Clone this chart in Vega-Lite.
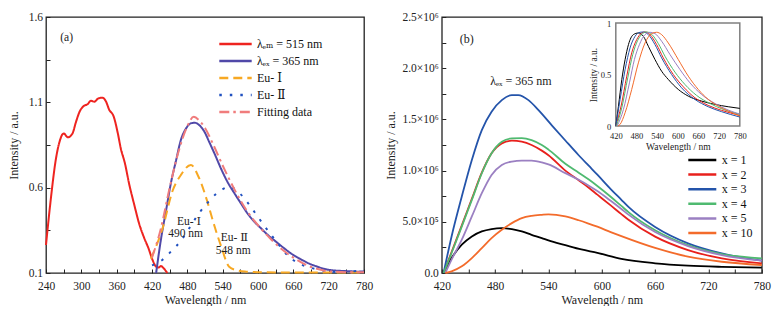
{
  "$schema": "https://vega.github.io/schema/vega-lite/v6.json",
  "background": "white",
  "padding": {"left": 6, "top": 10, "right": 0, "bottom": 0},
  "spacing": 8.8,
  "config": {
    "font": "Liberation Serif, Times New Roman, DejaVu Serif, serif",
    "view": {"stroke": "#222", "strokeWidth": 1.3},
    "axis": {"grid": false, "domain": false, "tickSize": -4, "tickColor": "#222", "tickWidth": 1,
      "labelFont": "Liberation Serif, Times New Roman, DejaVu Serif, serif", "labelFontSize": 11.5, "labelColor": "#222",
      "titleFont": "Liberation Serif, Times New Roman, DejaVu Serif, serif", "titleFontSize": 12, "titleFontWeight": "normal", "titleColor": "#222",
      "labelOverlap": false, "labelFlush": false},
    "legend": {"labelFont": "Liberation Serif, Times New Roman, DejaVu Serif, serif", "labelColor": "#111", "padding": 0},
    "text": {"font": "Liberation Serif, Times New Roman, DejaVu Serif, serif"}
  },
  "resolve": {"scale": {"color": "independent", "strokeDash": "independent", "x": "independent", "y": "independent"}, "legend": {"color": "independent", "strokeDash": "independent"}},
  "datasets": {
    "a": [
      {"series": "λₑₘ = 515 nm", "wl": 240, "val": 0.264},
      {"series": "λₑₘ = 515 nm", "wl": 248, "val": 0.528},
      {"series": "λₑₘ = 515 nm", "wl": 257, "val": 0.772},
      {"series": "λₑₘ = 515 nm", "wl": 263, "val": 0.869},
      {"series": "λₑₘ = 515 nm", "wl": 270, "val": 0.918},
      {"series": "λₑₘ = 515 nm", "wl": 277, "val": 0.895},
      {"series": "λₑₘ = 515 nm", "wl": 285, "val": 0.918},
      {"series": "λₑₘ = 515 nm", "wl": 291, "val": 0.986},
      {"series": "λₑₘ = 515 nm", "wl": 297, "val": 1.045},
      {"series": "λₑₘ = 515 nm", "wl": 304, "val": 1.078},
      {"series": "λₑₘ = 515 nm", "wl": 311, "val": 1.09},
      {"series": "λₑₘ = 515 nm", "wl": 316, "val": 1.109},
      {"series": "λₑₘ = 515 nm", "wl": 322, "val": 1.104},
      {"series": "λₑₘ = 515 nm", "wl": 329, "val": 1.123},
      {"series": "λₑₘ = 515 nm", "wl": 336, "val": 1.127},
      {"series": "λₑₘ = 515 nm", "wl": 342, "val": 1.104},
      {"series": "λₑₘ = 515 nm", "wl": 347, "val": 1.059},
      {"series": "λₑₘ = 515 nm", "wl": 355, "val": 1.016},
      {"series": "λₑₘ = 515 nm", "wl": 362, "val": 0.918},
      {"series": "λₑₘ = 515 nm", "wl": 367, "val": 0.83},
      {"series": "λₑₘ = 515 nm", "wl": 374, "val": 0.743},
      {"series": "λₑₘ = 515 nm", "wl": 381, "val": 0.625},
      {"series": "λₑₘ = 515 nm", "wl": 390, "val": 0.498},
      {"series": "λₑₘ = 515 nm", "wl": 398, "val": 0.391},
      {"series": "λₑₘ = 515 nm", "wl": 407, "val": 0.303},
      {"series": "λₑₘ = 515 nm", "wl": 414, "val": 0.245},
      {"series": "λₑₘ = 515 nm", "wl": 421, "val": 0.176},
      {"series": "λₑₘ = 515 nm", "wl": 427, "val": 0.137},
      {"series": "λₑₘ = 515 nm", "wl": 431, "val": 0.132},
      {"series": "λₑₘ = 515 nm", "wl": 435, "val": 0.141},
      {"series": "λₑₘ = 515 nm", "wl": 440, "val": 0.127},
      {"series": "λₑₘ = 515 nm", "wl": 446, "val": 0.1},
      {"series": "λₑₓ = 365 nm", "wl": 427, "val": 0.1},
      {"series": "λₑₓ = 365 nm", "wl": 435, "val": 0.293},
      {"series": "λₑₓ = 365 nm", "wl": 444, "val": 0.469},
      {"series": "λₑₓ = 365 nm", "wl": 452, "val": 0.625},
      {"series": "λₑₓ = 365 nm", "wl": 461, "val": 0.762},
      {"series": "λₑₓ = 365 nm", "wl": 469, "val": 0.879},
      {"series": "λₑₓ = 365 nm", "wl": 478, "val": 0.948},
      {"series": "λₑₓ = 365 nm", "wl": 486, "val": 0.977},
      {"series": "λₑₓ = 365 nm", "wl": 493, "val": 0.98},
      {"series": "λₑₓ = 365 nm", "wl": 500, "val": 0.967},
      {"series": "λₑₓ = 365 nm", "wl": 509, "val": 0.928},
      {"series": "λₑₓ = 365 nm", "wl": 517, "val": 0.869},
      {"series": "λₑₓ = 365 nm", "wl": 526, "val": 0.801},
      {"series": "λₑₓ = 365 nm", "wl": 537, "val": 0.713},
      {"series": "λₑₓ = 365 nm", "wl": 548, "val": 0.635},
      {"series": "λₑₓ = 365 nm", "wl": 560, "val": 0.567},
      {"series": "λₑₓ = 365 nm", "wl": 571, "val": 0.508},
      {"series": "λₑₓ = 365 nm", "wl": 582, "val": 0.45},
      {"series": "λₑₓ = 365 nm", "wl": 594, "val": 0.4},
      {"series": "λₑₓ = 365 nm", "wl": 605, "val": 0.362},
      {"series": "λₑₓ = 365 nm", "wl": 616, "val": 0.325},
      {"series": "λₑₓ = 365 nm", "wl": 630, "val": 0.285},
      {"series": "λₑₓ = 365 nm", "wl": 644, "val": 0.246},
      {"series": "λₑₓ = 365 nm", "wl": 658, "val": 0.21},
      {"series": "λₑₓ = 365 nm", "wl": 673, "val": 0.18},
      {"series": "λₑₓ = 365 nm", "wl": 687, "val": 0.155},
      {"series": "λₑₓ = 365 nm", "wl": 701, "val": 0.137},
      {"series": "λₑₓ = 365 nm", "wl": 715, "val": 0.122},
      {"series": "λₑₓ = 365 nm", "wl": 729, "val": 0.115},
      {"series": "λₑₓ = 365 nm", "wl": 743, "val": 0.112},
      {"series": "λₑₓ = 365 nm", "wl": 757, "val": 0.11},
      {"series": "λₑₓ = 365 nm", "wl": 770, "val": 0.108},
      {"series": "λₑₓ = 365 nm", "wl": 780, "val": 0.11},
      {"series": "Eu- Ⅰ", "wl": 418, "val": 0.184},
      {"series": "Eu- Ⅰ", "wl": 438, "val": 0.362},
      {"series": "Eu- Ⅰ", "wl": 455, "val": 0.582},
      {"series": "Eu- Ⅰ", "wl": 469, "val": 0.674},
      {"series": "Eu- Ⅰ", "wl": 486, "val": 0.733},
      {"series": "Eu- Ⅰ", "wl": 499, "val": 0.664},
      {"series": "Eu- Ⅰ", "wl": 514, "val": 0.518},
      {"series": "Eu- Ⅰ", "wl": 523, "val": 0.41},
      {"series": "Eu- Ⅰ", "wl": 537, "val": 0.26},
      {"series": "Eu- Ⅰ", "wl": 551, "val": 0.137},
      {"series": "Eu- Ⅰ", "wl": 565, "val": 0.115},
      {"series": "Eu- Ⅰ", "wl": 580, "val": 0.108},
      {"series": "Eu- Ⅰ", "wl": 600, "val": 0.105},
      {"series": "Eu- Ⅰ", "wl": 650, "val": 0.103},
      {"series": "Eu- Ⅰ", "wl": 700, "val": 0.103},
      {"series": "Eu- Ⅰ", "wl": 780, "val": 0.103},
      {"series": "Eu- Ⅱ", "wl": 420, "val": 0.145},
      {"series": "Eu- Ⅱ", "wl": 438, "val": 0.178},
      {"series": "Eu- Ⅱ", "wl": 453, "val": 0.229},
      {"series": "Eu- Ⅱ", "wl": 469, "val": 0.288},
      {"series": "Eu- Ⅱ", "wl": 480, "val": 0.344},
      {"series": "Eu- Ⅱ", "wl": 490, "val": 0.4},
      {"series": "Eu- Ⅱ", "wl": 501, "val": 0.455},
      {"series": "Eu- Ⅱ", "wl": 514, "val": 0.51},
      {"series": "Eu- Ⅱ", "wl": 530, "val": 0.567},
      {"series": "Eu- Ⅱ", "wl": 552, "val": 0.604},
      {"series": "Eu- Ⅱ", "wl": 568, "val": 0.57},
      {"series": "Eu- Ⅱ", "wl": 583, "val": 0.51},
      {"series": "Eu- Ⅱ", "wl": 596, "val": 0.448},
      {"series": "Eu- Ⅱ", "wl": 610, "val": 0.38},
      {"series": "Eu- Ⅱ", "wl": 630, "val": 0.29},
      {"series": "Eu- Ⅱ", "wl": 650, "val": 0.204},
      {"series": "Eu- Ⅱ", "wl": 670, "val": 0.155},
      {"series": "Eu- Ⅱ", "wl": 690, "val": 0.13},
      {"series": "Eu- Ⅱ", "wl": 710, "val": 0.115},
      {"series": "Eu- Ⅱ", "wl": 737, "val": 0.106},
      {"series": "Eu- Ⅱ", "wl": 762, "val": 0.11},
      {"series": "Eu- Ⅱ", "wl": 780, "val": 0.12},
      {"series": "Fitting data", "wl": 420, "val": 0.19},
      {"series": "Fitting data", "wl": 435, "val": 0.36},
      {"series": "Fitting data", "wl": 450, "val": 0.6},
      {"series": "Fitting data", "wl": 465, "val": 0.81},
      {"series": "Fitting data", "wl": 480, "val": 0.96},
      {"series": "Fitting data", "wl": 491, "val": 1.015},
      {"series": "Fitting data", "wl": 500, "val": 0.995},
      {"series": "Fitting data", "wl": 510, "val": 0.95},
      {"series": "Fitting data", "wl": 525, "val": 0.845},
      {"series": "Fitting data", "wl": 540, "val": 0.73},
      {"series": "Fitting data", "wl": 560, "val": 0.59},
      {"series": "Fitting data", "wl": 580, "val": 0.47},
      {"series": "Fitting data", "wl": 600, "val": 0.38},
      {"series": "Fitting data", "wl": 620, "val": 0.305},
      {"series": "Fitting data", "wl": 640, "val": 0.24},
      {"series": "Fitting data", "wl": 660, "val": 0.19},
      {"series": "Fitting data", "wl": 680, "val": 0.15},
      {"series": "Fitting data", "wl": 700, "val": 0.125},
      {"series": "Fitting data", "wl": 720, "val": 0.11},
      {"series": "Fitting data", "wl": 750, "val": 0.105},
      {"series": "Fitting data", "wl": 780, "val": 0.105}
    ],
    "aText": [
      {"wl": 275, "val": 1.478, "t": "(a)"},
      {"wl": 483, "val": 0.4, "t": "Eu- Ⅰ"},
      {"wl": 477, "val": 0.327, "t": "490 nm"},
      {"wl": 560, "val": 0.303, "t": "Eu- Ⅱ"},
      {"wl": 558, "val": 0.23, "t": "548 nm"}
    ],
    "bText": [
      {"wl": 448, "val": 2283000, "t": "(b)"},
      {"wl": 509, "val": 1876000, "t": "λₑₓ = 365 nm"}
    ],
    "b": [
      {"x": "x = 1", "wl": 422, "val": 0},
      {"x": "x = 1", "wl": 431, "val": 146000},
      {"x": "x = 1", "wl": 442.5, "val": 276000},
      {"x": "x = 1", "wl": 453.8, "val": 357000},
      {"x": "x = 1", "wl": 465, "val": 406000},
      {"x": "x = 1", "wl": 476, "val": 429000},
      {"x": "x = 1", "wl": 487.5, "val": 438000},
      {"x": "x = 1", "wl": 498.8, "val": 429000},
      {"x": "x = 1", "wl": 510, "val": 406000},
      {"x": "x = 1", "wl": 521, "val": 373000},
      {"x": "x = 1", "wl": 532.5, "val": 341000},
      {"x": "x = 1", "wl": 540, "val": 318000},
      {"x": "x = 1", "wl": 559, "val": 272000},
      {"x": "x = 1", "wl": 577, "val": 230000},
      {"x": "x = 1", "wl": 595, "val": 197000},
      {"x": "x = 1", "wl": 622, "val": 138000},
      {"x": "x = 1", "wl": 660, "val": 95000},
      {"x": "x = 1", "wl": 697, "val": 72000},
      {"x": "x = 1", "wl": 735, "val": 60000},
      {"x": "x = 1", "wl": 780, "val": 52000},
      {"x": "x = 2", "wl": 422, "val": 0},
      {"x": "x = 2", "wl": 431, "val": 205000},
      {"x": "x = 2", "wl": 442.5, "val": 465000},
      {"x": "x = 2", "wl": 453.8, "val": 725000},
      {"x": "x = 2", "wl": 465, "val": 980000},
      {"x": "x = 2", "wl": 476, "val": 1169000},
      {"x": "x = 2", "wl": 487.5, "val": 1266000},
      {"x": "x = 2", "wl": 498.8, "val": 1292000},
      {"x": "x = 2", "wl": 510, "val": 1282000},
      {"x": "x = 2", "wl": 521, "val": 1250000},
      {"x": "x = 2", "wl": 532.5, "val": 1195000},
      {"x": "x = 2", "wl": 540, "val": 1150000},
      {"x": "x = 2", "wl": 559, "val": 1000000},
      {"x": "x = 2", "wl": 574, "val": 905000},
      {"x": "x = 2", "wl": 585, "val": 835000},
      {"x": "x = 2", "wl": 595, "val": 765000},
      {"x": "x = 2", "wl": 610, "val": 660000},
      {"x": "x = 2", "wl": 622, "val": 575000},
      {"x": "x = 2", "wl": 630, "val": 520000},
      {"x": "x = 2", "wl": 660, "val": 355000},
      {"x": "x = 2", "wl": 697, "val": 224000},
      {"x": "x = 2", "wl": 735, "val": 143000},
      {"x": "x = 2", "wl": 780, "val": 94000},
      {"x": "x = 3", "wl": 422, "val": 0},
      {"x": "x = 3", "wl": 431, "val": 357000},
      {"x": "x = 3", "wl": 442.5, "val": 747000},
      {"x": "x = 3", "wl": 453.8, "val": 1104000},
      {"x": "x = 3", "wl": 465, "val": 1396000},
      {"x": "x = 3", "wl": 476, "val": 1575000},
      {"x": "x = 3", "wl": 487.5, "val": 1688000},
      {"x": "x = 3", "wl": 498.8, "val": 1737000},
      {"x": "x = 3", "wl": 506, "val": 1737000},
      {"x": "x = 3", "wl": 517.5, "val": 1688000},
      {"x": "x = 3", "wl": 528.8, "val": 1590000},
      {"x": "x = 3", "wl": 544, "val": 1440000},
      {"x": "x = 3", "wl": 559, "val": 1294000},
      {"x": "x = 3", "wl": 574, "val": 1150000},
      {"x": "x = 3", "wl": 585, "val": 1050000},
      {"x": "x = 3", "wl": 595, "val": 960000},
      {"x": "x = 3", "wl": 610, "val": 820000},
      {"x": "x = 3", "wl": 622, "val": 715000},
      {"x": "x = 3", "wl": 630, "val": 645000},
      {"x": "x = 3", "wl": 660, "val": 450000},
      {"x": "x = 3", "wl": 697, "val": 290000},
      {"x": "x = 3", "wl": 735, "val": 191000},
      {"x": "x = 3", "wl": 780, "val": 120000},
      {"x": "x = 4", "wl": 422, "val": 0},
      {"x": "x = 4", "wl": 431, "val": 195000},
      {"x": "x = 4", "wl": 442.5, "val": 455000},
      {"x": "x = 4", "wl": 453.8, "val": 714000},
      {"x": "x = 4", "wl": 465, "val": 974000},
      {"x": "x = 4", "wl": 476, "val": 1169000},
      {"x": "x = 4", "wl": 487.5, "val": 1282000},
      {"x": "x = 4", "wl": 498.8, "val": 1315000},
      {"x": "x = 4", "wl": 510, "val": 1318000},
      {"x": "x = 4", "wl": 521, "val": 1298000},
      {"x": "x = 4", "wl": 532.5, "val": 1250000},
      {"x": "x = 4", "wl": 540, "val": 1205000},
      {"x": "x = 4", "wl": 559, "val": 1067000},
      {"x": "x = 4", "wl": 574, "val": 980000},
      {"x": "x = 4", "wl": 585, "val": 915000},
      {"x": "x = 4", "wl": 595, "val": 850000},
      {"x": "x = 4", "wl": 610, "val": 745000},
      {"x": "x = 4", "wl": 622, "val": 655000},
      {"x": "x = 4", "wl": 630, "val": 595000},
      {"x": "x = 4", "wl": 660, "val": 418000},
      {"x": "x = 4", "wl": 697, "val": 272000},
      {"x": "x = 4", "wl": 735, "val": 185000},
      {"x": "x = 4", "wl": 780, "val": 143000},
      {"x": "x = 5", "wl": 424, "val": 0},
      {"x": "x = 5", "wl": 431, "val": 130000},
      {"x": "x = 5", "wl": 442.5, "val": 325000},
      {"x": "x = 5", "wl": 453.8, "val": 552000},
      {"x": "x = 5", "wl": 465, "val": 779000},
      {"x": "x = 5", "wl": 476, "val": 958000},
      {"x": "x = 5", "wl": 487.5, "val": 1055000},
      {"x": "x = 5", "wl": 498.8, "val": 1088000},
      {"x": "x = 5", "wl": 510, "val": 1097000},
      {"x": "x = 5", "wl": 521, "val": 1097000},
      {"x": "x = 5", "wl": 532.5, "val": 1080000},
      {"x": "x = 5", "wl": 540, "val": 1060000},
      {"x": "x = 5", "wl": 559, "val": 975000},
      {"x": "x = 5", "wl": 574, "val": 910000},
      {"x": "x = 5", "wl": 585, "val": 855000},
      {"x": "x = 5", "wl": 595, "val": 800000},
      {"x": "x = 5", "wl": 610, "val": 705000},
      {"x": "x = 5", "wl": 622, "val": 625000},
      {"x": "x = 5", "wl": 630, "val": 570000},
      {"x": "x = 5", "wl": 660, "val": 400000},
      {"x": "x = 5", "wl": 697, "val": 263000},
      {"x": "x = 5", "wl": 735, "val": 175000},
      {"x": "x = 5", "wl": 780, "val": 120000},
      {"x": "x = 10", "wl": 424, "val": 0},
      {"x": "x = 10", "wl": 431, "val": 16000},
      {"x": "x = 10", "wl": 442.5, "val": 65000},
      {"x": "x = 10", "wl": 453.8, "val": 146000},
      {"x": "x = 10", "wl": 465, "val": 244000},
      {"x": "x = 10", "wl": 476, "val": 341000},
      {"x": "x = 10", "wl": 487.5, "val": 422000},
      {"x": "x = 10", "wl": 498.8, "val": 487000},
      {"x": "x = 10", "wl": 510, "val": 536000},
      {"x": "x = 10", "wl": 521, "val": 558000},
      {"x": "x = 10", "wl": 532.5, "val": 568000},
      {"x": "x = 10", "wl": 540, "val": 572000},
      {"x": "x = 10", "wl": 559, "val": 552000},
      {"x": "x = 10", "wl": 574, "val": 515000},
      {"x": "x = 10", "wl": 585, "val": 483000},
      {"x": "x = 10", "wl": 595, "val": 452000},
      {"x": "x = 10", "wl": 610, "val": 400000},
      {"x": "x = 10", "wl": 622, "val": 360000},
      {"x": "x = 10", "wl": 660, "val": 245000},
      {"x": "x = 10", "wl": 697, "val": 160000},
      {"x": "x = 10", "wl": 735, "val": 110000},
      {"x": "x = 10", "wl": 780, "val": 78000}
    ],
    "inset": [
      {"x": "x = 1", "wl": 420, "val": 0},
      {"x": "x = 1", "wl": 427.6, "val": 0.19},
      {"x": "x = 1", "wl": 437.4, "val": 0.45},
      {"x": "x = 1", "wl": 447, "val": 0.645},
      {"x": "x = 1", "wl": 456.7, "val": 0.79},
      {"x": "x = 1", "wl": 471, "val": 0.887},
      {"x": "x = 1", "wl": 485.6, "val": 0.903},
      {"x": "x = 1", "wl": 500, "val": 0.871},
      {"x": "x = 1", "wl": 514.5, "val": 0.774},
      {"x": "x = 1", "wl": 533.8, "val": 0.645},
      {"x": "x = 1", "wl": 553, "val": 0.532},
      {"x": "x = 1", "wl": 572.4, "val": 0.452},
      {"x": "x = 1", "wl": 601.4, "val": 0.355},
      {"x": "x = 1", "wl": 630.4, "val": 0.29},
      {"x": "x = 1", "wl": 669, "val": 0.242},
      {"x": "x = 1", "wl": 707.7, "val": 0.21},
      {"x": "x = 1", "wl": 746.3, "val": 0.187},
      {"x": "x = 1", "wl": 780, "val": 0.171},
      {"x": "x = 2", "wl": 420, "val": 0},
      {"x": "x = 2", "wl": 435.4, "val": 0.194},
      {"x": "x = 2", "wl": 451.8, "val": 0.484},
      {"x": "x = 2", "wl": 466.2, "val": 0.71},
      {"x": "x = 2", "wl": 480.7, "val": 0.839},
      {"x": "x = 2", "wl": 495.2, "val": 0.903},
      {"x": "x = 2", "wl": 504.8, "val": 0.913},
      {"x": "x = 2", "wl": 519.3, "val": 0.887},
      {"x": "x = 2", "wl": 538.6, "val": 0.79},
      {"x": "x = 2", "wl": 557.9, "val": 0.661},
      {"x": "x = 2", "wl": 586.9, "val": 0.5},
      {"x": "x = 2", "wl": 615.9, "val": 0.381},
      {"x": "x = 2", "wl": 649.7, "val": 0.274},
      {"x": "x = 2", "wl": 688.3, "val": 0.2},
      {"x": "x = 2", "wl": 727, "val": 0.152},
      {"x": "x = 2", "wl": 780, "val": 0.103},
      {"x": "x = 3", "wl": 420, "val": 0},
      {"x": "x = 3", "wl": 432.5, "val": 0.258},
      {"x": "x = 3", "wl": 447, "val": 0.548},
      {"x": "x = 3", "wl": 461.4, "val": 0.758},
      {"x": "x = 3", "wl": 475.9, "val": 0.871},
      {"x": "x = 3", "wl": 490.4, "val": 0.91},
      {"x": "x = 3", "wl": 500, "val": 0.913},
      {"x": "x = 3", "wl": 514.5, "val": 0.887},
      {"x": "x = 3", "wl": 533.8, "val": 0.79},
      {"x": "x = 3", "wl": 553.1, "val": 0.661},
      {"x": "x = 3", "wl": 582, "val": 0.5},
      {"x": "x = 3", "wl": 611, "val": 0.371},
      {"x": "x = 3", "wl": 649.7, "val": 0.258},
      {"x": "x = 3", "wl": 688.3, "val": 0.187},
      {"x": "x = 3", "wl": 727, "val": 0.139},
      {"x": "x = 3", "wl": 780, "val": 0.087},
      {"x": "x = 4", "wl": 422, "val": 0},
      {"x": "x = 4", "wl": 437.4, "val": 0.177},
      {"x": "x = 4", "wl": 454.7, "val": 0.468},
      {"x": "x = 4", "wl": 469.2, "val": 0.694},
      {"x": "x = 4", "wl": 483.6, "val": 0.832},
      {"x": "x = 4", "wl": 498.1, "val": 0.897},
      {"x": "x = 4", "wl": 509.7, "val": 0.913},
      {"x": "x = 4", "wl": 524.2, "val": 0.89},
      {"x": "x = 4", "wl": 543.5, "val": 0.8},
      {"x": "x = 4", "wl": 562.9, "val": 0.677},
      {"x": "x = 4", "wl": 591.8, "val": 0.523},
      {"x": "x = 4", "wl": 620.8, "val": 0.403},
      {"x": "x = 4", "wl": 654.6, "val": 0.297},
      {"x": "x = 4", "wl": 693.2, "val": 0.219},
      {"x": "x = 4", "wl": 731.8, "val": 0.161},
      {"x": "x = 4", "wl": 780, "val": 0.113},
      {"x": "x = 5", "wl": 424, "val": 0},
      {"x": "x = 5", "wl": 442.2, "val": 0.161},
      {"x": "x = 5", "wl": 459.6, "val": 0.419},
      {"x": "x = 5", "wl": 474, "val": 0.645},
      {"x": "x = 5", "wl": 488.5, "val": 0.79},
      {"x": "x = 5", "wl": 504.8, "val": 0.887},
      {"x": "x = 5", "wl": 519.3, "val": 0.91},
      {"x": "x = 5", "wl": 533.8, "val": 0.897},
      {"x": "x = 5", "wl": 553.1, "val": 0.823},
      {"x": "x = 5", "wl": 577.3, "val": 0.694},
      {"x": "x = 5", "wl": 606.3, "val": 0.548},
      {"x": "x = 5", "wl": 635.3, "val": 0.419},
      {"x": "x = 5", "wl": 669, "val": 0.306},
      {"x": "x = 5", "wl": 707.7, "val": 0.219},
      {"x": "x = 5", "wl": 746.3, "val": 0.155},
      {"x": "x = 5", "wl": 780, "val": 0.116},
      {"x": "x = 10", "wl": 426, "val": 0},
      {"x": "x = 10", "wl": 432.5, "val": 0.016},
      {"x": "x = 10", "wl": 447, "val": 0.129},
      {"x": "x = 10", "wl": 466.2, "val": 0.355},
      {"x": "x = 10", "wl": 485.5, "val": 0.613},
      {"x": "x = 10", "wl": 504.8, "val": 0.806},
      {"x": "x = 10", "wl": 524.2, "val": 0.897},
      {"x": "x = 10", "wl": 538.6, "val": 0.91},
      {"x": "x = 10", "wl": 553.1, "val": 0.887},
      {"x": "x = 10", "wl": 572.4, "val": 0.806},
      {"x": "x = 10", "wl": 601.4, "val": 0.645},
      {"x": "x = 10", "wl": 630.4, "val": 0.484},
      {"x": "x = 10", "wl": 659.4, "val": 0.355},
      {"x": "x = 10", "wl": 688.3, "val": 0.258},
      {"x": "x = 10", "wl": 717.3, "val": 0.194},
      {"x": "x = 10", "wl": 746.3, "val": 0.145},
      {"x": "x = 10", "wl": 780, "val": 0.097}
    ],
    "insetBox": [{"x1": 420, "x2": 780, "y1": 0, "y2": 1}]
  },
  "hconcat": [
    {
      "width": 318,
      "height": 256,
      "layer": [
        {
          "data": {"name": "a"},
          "mark": {"type": "line", "strokeWidth": 2, "interpolate": "monotone", "strokeCap": "butt"},
          "encoding": {
            "x": {"field": "wl", "type": "quantitative",
              "scale": {"domain": [240, 780], "nice": false, "zero": false},
              "axis": {"values": [240,270,300,330,360,390,420,450,480,510,540,570,600,630,660,690,720,750,780], "tickCount": 100,
                "labelExpr": "datum.value % 60 == 0 ? datum.label : ''", "labelOverlap": false,
                "title": "Wavelength / nm", "labelPadding": 11.5, "titlePadding": 2}},
            "y": {"field": "val", "type": "quantitative",
              "scale": {"domain": [0.1, 1.6], "nice": false, "zero": false},
              "axis": {"values": [0.1,0.35,0.6,0.85,1.1,1.35,1.6], "tickCount": 100, "labelOverlap": false,
                "labelExpr": "round(datum.value*100) % 50 == 10 ? format(datum.value, '.1f') : ''",
                "title": "Intensity / a.u.", "labelPadding": 7.5, "titlePadding": 8}},
            "color": {"field": "series", "type": "nominal",
              "scale": {"domain": ["λₑₘ = 515 nm", "λₑₓ = 365 nm", "Eu- Ⅰ", "Eu- Ⅱ", "Fitting data"],
                "range": ["#ee2420", "#5048a8", "#f7a823", "#2050c0", "#f07c7c"]},
              "legend": {"orient": "none", "legendX": 172, "legendY": 20, "title": null, "symbolType": "stroke",
                "symbolSize": 1050, "symbolStrokeWidth": 2.5, "labelFontSize": 12, "clipHeight": 14, "rowPadding": 3, "labelOffset": 4}},
            "strokeDash": {"field": "series", "type": "nominal",
              "scale": {"domain": ["λₑₘ = 515 nm", "λₑₓ = 365 nm", "Eu- Ⅰ", "Eu- Ⅱ", "Fitting data"],
                "range": [[1, 0], [1, 0], [9, 5], [2.5, 8], [10, 4, 2.5, 4]]},
              "legend": {"orient": "none", "legendX": 172, "legendY": 20, "title": null, "symbolType": "stroke",
                "symbolSize": 1050, "symbolStrokeWidth": 2.5, "labelFontSize": 12, "clipHeight": 14, "rowPadding": 3, "labelOffset": 4}}
          }
        },
        {
          "data": {"name": "aText"},
          "mark": {"type": "text", "fontSize": 11.5, "color": "#222"},
          "encoding": {
            "x": {"field": "wl", "type": "quantitative"},
            "y": {"field": "val", "type": "quantitative"},
            "text": {"field": "t"}
          }
        }
      ]
    },
    {
      "width": 320,
      "height": 256,
      "resolve": {"scale": {"x": "independent", "y": "independent"}, "axis": {"x": "independent", "y": "independent"}},
      "layer": [
        {
          "layer": [
            {
              "data": {"name": "b"},
              "mark": {"type": "line", "strokeWidth": 1.8, "interpolate": "monotone"},
              "encoding": {
                "x": {"field": "wl", "type": "quantitative",
                  "scale": {"domain": [420, 780], "nice": false, "zero": false},
                  "axis": {"orient": "bottom", "values": [420,450,480,510,540,570,600,630,660,690,720,750,780], "tickCount": 100,
                    "labelExpr": "datum.value % 60 == 0 ? datum.label : ''", "labelOverlap": false,
                    "title": "Wavelength / nm", "labelPadding": 11.5, "titlePadding": 2}},
                "y": {"field": "val", "type": "quantitative",
                  "scale": {"domain": [0, 2500000], "nice": false},
                  "axis": {"orient": "left", "values": [0,250000,500000,750000,1000000,1250000,1500000,1750000,2000000,2250000,2500000], "tickCount": 100, "labelOverlap": false,
                    "labelExpr": "datum.value % 500000 == 0 ? (datum.value == 0 ? '0.0' : (datum.value < 1000000 ? format(datum.value/100000, '.1f') + '×10⁵' : format(datum.value/1000000, '.1f') + '×10⁶')) : ''",
                    "title": "Intensity / a.u.", "labelPadding": 7.5, "titlePadding": 4.5}},
                "color": {"field": "x", "type": "nominal",
                  "scale": {"domain": ["x = 1", "x = 2", "x = 3", "x = 4", "x = 5", "x = 10"],
                    "range": ["#000000", "#e8201c", "#2454aa", "#4fba70", "#9b80c2", "#f36b2b"]},
                  "legend": {"orient": "none", "legendX": 245, "legendY": 137, "title": null, "symbolType": "stroke",
                    "symbolSize": 784, "symbolStrokeWidth": 2.5, "labelFontSize": 12, "clipHeight": 12, "rowPadding": 2.6, "labelOffset": 4}}
              }
            },
            {
              "data": {"name": "bText"},
              "mark": {"type": "text", "fontSize": 12, "color": "#222"},
              "encoding": {
                "x": {"field": "wl", "type": "quantitative"},
                "y": {"field": "val", "type": "quantitative"},
                "text": {"field": "t"}
              }
            }
          ]
        },
        {
          "layer": [
            {
              "data": {"name": "insetBox"},
              "mark": {"type": "rect", "fill": "white", "stroke": "#808080", "strokeWidth": 1.5},
              "encoding": {
                "x": {"field": "x1", "type": "quantitative",
                  "scale": {"domain": [420, 780], "range": [174, 298], "nice": false, "zero": false},
                  "axis": {"orient": "bottom", "offset": -147, "values": [420,480,540,600,660,720,780], "tickCount": 100, "ticks": false, "labelOverlap": false,
                    "labelFontSize": 8.5, "labelPadding": 5, "title": "Wavelength / nm", "titleFontSize": 9.5, "titlePadding": 1.5}},
                "x2": {"field": "x2"},
                "y": {"field": "y1", "type": "quantitative",
                  "scale": {"domain": [0, 1], "range": [109, 6], "nice": false},
                  "axis": {"orient": "left", "offset": -174, "values": [0, 0.5, 1], "tickCount": 100, "ticks": false, "labelOverlap": false,
                    "labelExpr": "datum.value == 0.5 ? '0.5' : format(datum.value, 'd')",
                    "labelFontSize": 8.5, "labelPadding": 5, "title": "Intensity / a.u.", "titleFontSize": 9.5, "titlePadding": 1.5}},
                "y2": {"field": "y2"}
              }
            },
            {
              "data": {"name": "inset"},
              "mark": {"type": "line", "strokeWidth": 1, "interpolate": "monotone"},
              "encoding": {
                "x": {"field": "wl", "type": "quantitative",
                  "scale": {"domain": [420, 780], "range": [174, 298], "nice": false, "zero": false}},
                "y": {"field": "val", "type": "quantitative",
                  "scale": {"domain": [0, 1], "range": [109, 6], "nice": false}},
                "color": {"field": "x", "type": "nominal"}
              }
            }
          ]
        }
      ]
    }
  ]
}
